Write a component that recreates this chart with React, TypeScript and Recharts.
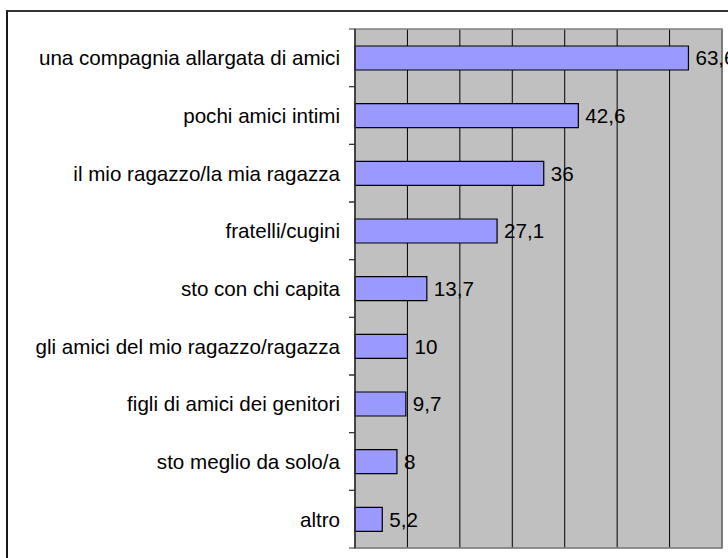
import React from 'react';
import {
  BarChart,
  Bar,
  XAxis,
  YAxis,
  CartesianGrid,
  ReferenceArea,
  LabelList,
} from 'recharts';

const categories = [
  'una compagnia allargata di amici',
  'pochi amici intimi',
  'il mio ragazzo/la mia ragazza',
  'fratelli/cugini',
  'sto con chi capita',
  'gli amici del mio ragazzo/ragazza',
  'figli di amici dei genitori',
  'sto meglio da solo/a',
  'altro',
];
const values = [63.6, 42.6, 36, 27.1, 13.7, 10, 9.7, 8, 5.2];
const xTicks = [0, 10, 20, 30, 40, 50, 60, 70];

const data = categories.map((name, i) => ({ name, value: values[i] }));

const FONT = '"Liberation Sans", Arial, sans-serif';
const PLOT_TOP = 29;
const PLOT_BOTTOM = 548;
const BAND = (PLOT_BOTTOM - PLOT_TOP) / categories.length;

// etichetta categoria + trattino sul confine della fascia (stile Excel)
const CategoryTick = (props: any) => {
  const { x, y, payload } = props;
  return (
    <g>
      <line x1={355} x2={349} y1={y - BAND / 2} y2={y - BAND / 2} stroke="#333" />
      <line x1={355} x2={349} y1={y + BAND / 2} y2={y + BAND / 2} stroke="#333" />
      <text
        x={x}
        y={y}
        textAnchor="end"
        dominantBaseline="central"
        fill="#000"
        fontSize={20.6}
        fontFamily={FONT}
      >
        {payload.value}
      </text>
    </g>
  );
};

export default function App() {
  return (
    <div
      style={{
        position: 'absolute',
        left: 0,
        top: 0,
        width: 728,
        height: 558,
        overflow: 'hidden',
        background: '#fff',
      }}
    >
      <div
        style={{
          position: 'absolute',
          left: 6,
          top: 10,
          width: 800,
          height: 600,
          borderTop: '2px solid #333',
          borderLeft: '2px solid #1a1a1a',
        }}
      />
      <div style={{ position: 'absolute', left: 0, top: 0 }}>
        <BarChart
          width={760}
          height={600}
          data={data}
          layout="vertical"
          margin={{ top: PLOT_TOP, right: 38, bottom: 22, left: 0 }}
          barSize={24}
        >
          <CartesianGrid
            horizontal={false}
            stroke="#000"
            fill="#C0C0C0"
            fillOpacity={1}
          />
          <ReferenceArea x1={0} x2={70} fill="none" stroke="#808080" strokeWidth={1.5} />
          <XAxis
            type="number"
            domain={[0, 70]}
            ticks={xTicks}
            height={30}
            axisLine={{ stroke: '#808080' }}
            tick={() => <g />}
            tickLine={false}
          />
          <YAxis
            type="category"
            dataKey="name"
            width={355}
            tickSize={6}
            tickMargin={9}
            tickLine={false}
            axisLine={{ stroke: '#333', strokeWidth: 1.5 }}
            tick={<CategoryTick />}
            interval={0}
          />
          <Bar
            dataKey="value"
            fill="#9999FF"
            stroke="#000"
            strokeWidth={1.2}
            isAnimationActive={false}
          >
            <LabelList
              dataKey="value"
              position="right"
              offset={7}
              fill="#000"
              fontSize={20.6}
              fontFamily={FONT}
              formatter={(v: any) => String(v).replace('.', ',')}
            />
          </Bar>
        </BarChart>
      </div>
    </div>
  );
}
